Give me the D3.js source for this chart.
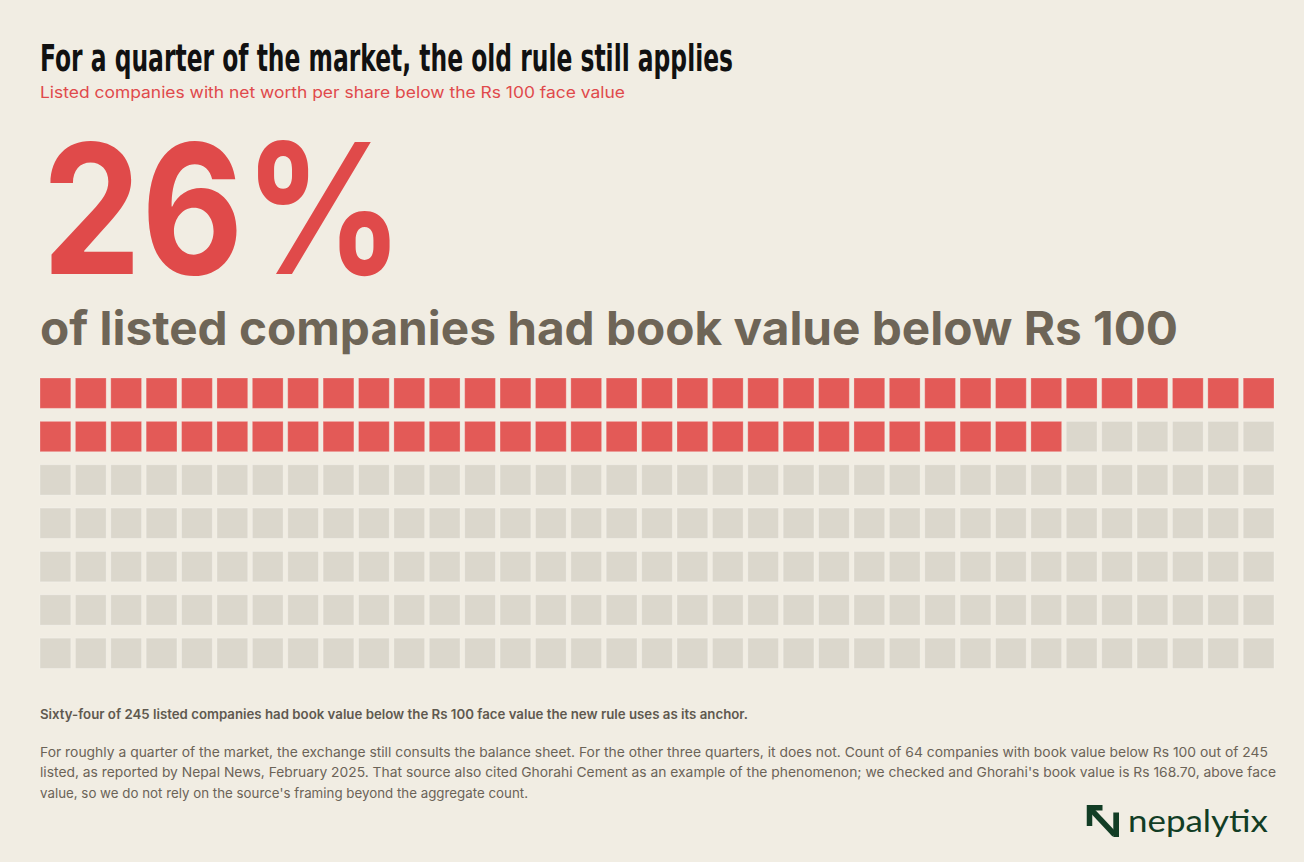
<!DOCTYPE html>
<html>
<head>
<meta charset="utf-8">
<script src="https://cdn.jsdelivr.net/npm/d3@7"></script>
<style>
  html, body { margin: 0; padding: 0; background: #f1ede3; }
  svg { display: block; }
</style>
</head>
<body>
<svg id="chart"></svg>
<script>
// data
const categories = ["Below Rs 100", "At or above Rs 100"];
const counts = [64, 181];
const columns = 35;
const headline = "26%";
const titleText = "For a quarter of the market, the old rule still applies";
const subtitleText = "Listed companies with net worth per share below the Rs 100 face value";
const kickerText = "of listed companies had book value below Rs 100";
const noteBold = "Sixty-four of 245 listed companies had book value below the Rs 100 face value the new rule uses as its anchor.";
const noteLines = [
  "For roughly a quarter of the market, the exchange still consults the balance sheet. For the other three quarters, it does not. Count of 64 companies with book value below Rs 100 out of 245",
  "listed, as reported by Nepal News, February 2025. That source also cited Ghorahi Cement as an example of the phenomenon; we checked and Ghorahi's book value is Rs 168.70, above face",
  "value, so we do not rely on the source's framing beyond the aggregate count."
];

const W = 1304, H = 862;
const BG = "#f1ede3";
const RED = "#e35a57";
const GREY = "#dbd7cc";

const svg = d3.select("#chart").attr("width", W).attr("height", H);
svg.append("rect").attr("width", W).attr("height", H).attr("fill", BG);

const sans = "Inter, 'Noto Sans', Roboto, sans-serif";

// title
svg.append("text")
  .attr("x", 40).attr("y", 71)
  .attr("font-family", "'Liberation Sans Narrow', 'DejaVu Sans Condensed', sans-serif")
  .attr("font-weight", 700)
  .attr("font-size", 38)
  .attr("fill", "#111")
  .attr("textLength", 693)
  .attr("lengthAdjust", "spacingAndGlyphs")
  .text(titleText);

svg.append("text")
  .attr("x", 40).attr("y", 97.5)
  .attr("font-family", sans)
  .attr("font-size", 15.5)
  .attr("fill", "#e0494b")
  .attr("textLength", 585)
  .attr("lengthAdjust", "spacingAndGlyphs")
  .text(subtitleText);

// big number
svg.append("text")
  .attr("x", 42).attr("y", 274)
  .attr("font-family", sans)
  .attr("font-weight", 700)
  .attr("font-size", 181)
  .attr("fill", "#e04a4a")
  .attr("textLength", 362)
  .attr("lengthAdjust", "spacingAndGlyphs")
  .text(headline);

svg.append("text")
  .attr("x", 40).attr("y", 345)
  .attr("font-family", sans)
  .attr("font-weight", 700)
  .attr("font-size", 47)
  .attr("fill", "#6e6557")
  .attr("textLength", 1138)
  .attr("lengthAdjust", "spacingAndGlyphs")
  .text(kickerText);

// waffle grid
const cells = [];
categories.forEach((c, ci) => {
  for (let i = 0; i < counts[ci]; i++) cells.push({ cat: c, idx: ci });
});
cells.forEach((d, i) => { d.col = i % columns; d.row = Math.floor(i / columns); });
const rows = Math.ceil(cells.length / columns);

const x = d3.scaleBand().domain(d3.range(columns)).range([40, 1274]).paddingInner(0.13);
const y = d3.scaleBand().domain(d3.range(rows)).range([378, 668.5]).paddingInner(0.3);
const color = d3.scaleOrdinal().domain(categories).range([RED, GREY]);

svg.append("g").selectAll("rect")
  .data(cells)
  .join("rect")
  .attr("x", d => x(d.col))
  .attr("y", d => y(d.row))
  .attr("width", x.bandwidth())
  .attr("height", y.bandwidth())
  .attr("fill", d => color(d.cat))
  .attr("stroke", "rgba(255,255,255,0.25)")
  .attr("stroke-width", 1);

// notes
svg.append("text")
  .attr("x", 40).attr("y", 719)
  .attr("font-family", sans)
  .attr("font-weight", 600)
  .attr("font-size", 13)
  .attr("fill", "#5f594f")
  .attr("textLength", 708)
  .attr("lengthAdjust", "spacingAndGlyphs")
  .text(noteBold);

const noteWidths = [1228, 1236, 0];
svg.append("g").selectAll("text")
  .data(noteLines)
  .join("text")
  .attr("x", 40)
  .attr("y", (d, i) => 756.5 + i * 20.5)
  .attr("font-family", sans)
  .attr("font-size", 13.5)
  .attr("fill", "#6b6357")
  .each(function(d, i) {
    if (noteWidths[i]) d3.select(this).attr("textLength", noteWidths[i]).attr("lengthAdjust", "spacingAndGlyphs");
    else d3.select(this).attr("textLength", 488).attr("lengthAdjust", "spacingAndGlyphs");
  })
  .text(d => d);

// logo
const logo = svg.append("g").attr("fill", "none").attr("stroke", "#123d25").attr("stroke-width", 5.5);
logo.append("path").attr("d", "M1089.5,826 V807.8 H1102.5");
logo.append("line").attr("x1", 1090).attr("y1", 808.3).attr("x2", 1114.5).attr("y2", 834.5);
svg.append("rect").attr("x", 1113.3).attr("y", 812.5).attr("width", 5.7).attr("height", 24.5).attr("fill", "#123d25");
svg.append("text")
  .attr("x", 1128).attr("y", 832)
  .attr("font-family", "Lato, 'Noto Sans', sans-serif")
  .attr("font-weight", 400)
  .attr("font-size", 31)
  .attr("fill", "#123d25")
  .attr("textLength", 140)
  .attr("lengthAdjust", "spacingAndGlyphs")
  .text("nepalytix");
</script>
</body>
</html>
